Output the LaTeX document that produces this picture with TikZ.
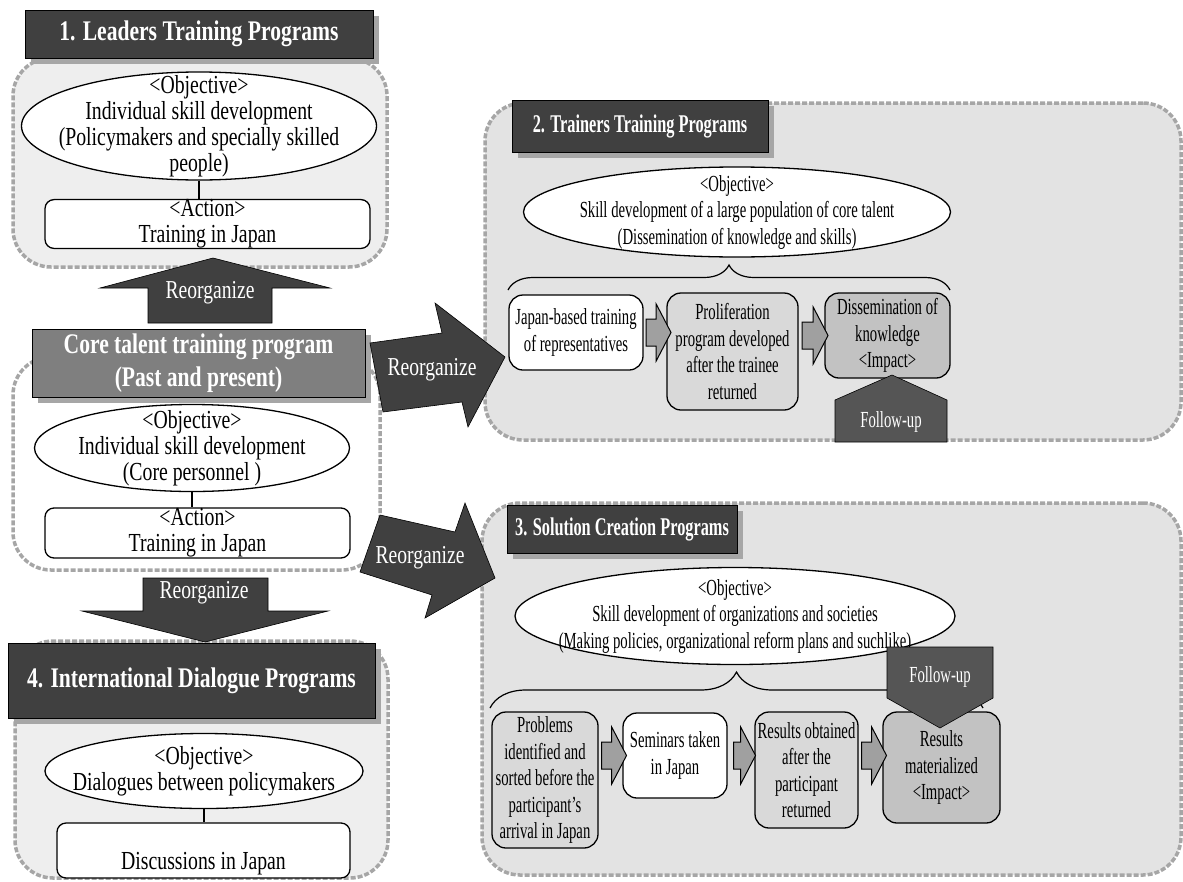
\documentclass[tikz,border=0pt]{standalone}
\usepackage{fontspec}
\setmainfont{Liberation Serif}
\newfontfamily\lfont{Liberation Serif}[FakeStretch=0.76]
\newfontfamily\rfont{Liberation Serif}[FakeStretch=0.64]
\usetikzlibrary{shapes.geometric,shapes.arrows,shadows,calc,decorations.pathreplacing}
\definecolor{darkbox}{HTML}{404040}
\definecolor{corebox}{HTML}{7F7F7F}
\definecolor{shadegray}{HTML}{A6A6A6}
\definecolor{dashgray}{HTML}{A6A6A6}
\definecolor{paleA}{HTML}{EEEEEE}
\definecolor{paleB}{HTML}{E3E3E3}
\definecolor{boxlight}{HTML}{D9D9D9}
\definecolor{boxdark}{HTML}{C2C2C2}
\definecolor{arrowgray}{HTML}{A0A0A0}
\definecolor{followgray}{HTML}{555555}
\tikzset{
  region/.style={draw=dashgray, line width=3.5pt, dash pattern=on 5pt off 2pt, rounded corners=38pt, fill=#1},
  titlebox/.style={draw=black, fill=darkbox, text=white, inner sep=2pt, drop shadow={shadow xshift=6pt, shadow yshift=-6pt, fill=shadegray, opacity=1}},
  objell/.style={ellipse, draw, fill=white, line width=1.3pt, inner sep=0pt},
  actbox/.style={draw, fill=white, line width=1.3pt, rounded corners=9pt, inner sep=0pt, align=center, font=\lfont\fontsize{26}{26}\selectfont},
  stepbox/.style={draw, line width=1.3pt, rounded corners=14pt, inner sep=2pt, align=center, font=\rfont\fontsize{23}{26.5}\selectfont},
  ltext/.style={align=center, font=\lfont\fontsize{26}{26}\selectfont},
  rtext/.style={align=center, font=\rfont\fontsize{23}{26.5}\selectfont},
  ltitle/.style={font=\lfont\bfseries\fontsize{28.4}{33}\selectfont, align=center},
  rtitle/.style={font=\rfont\bfseries\fontsize{25.5}{28}\selectfont},
  blockarrow/.style={single arrow, draw=black, fill=arrowgray, line width=1pt, inner xsep=0pt, inner ysep=13pt, minimum height=#1, single arrow head extend=15pt, single arrow tip angle=125},
  bigarrow/.style={fill=darkbox, draw=black, line width=0.6pt},
  reorg/.style={text=white, font=\lfont\fontsize{25.8}{26}\selectfont},
  fupshape/.style={fill=followgray, draw=black, line width=0.6pt},
  fup/.style={text=white, font=\rfont\fontsize{23}{26}\selectfont},
  curly/.style={decorate, line width=1.2pt, decoration={brace, amplitude=#1}}
}
\begin{document}
\begin{tikzpicture}[x=1pt,y=-1pt]
\useasboundingbox (0,0) rectangle (1183,881);
\node[region=paleA, minimum width=374pt, minimum height=209pt] (reg1) at (200,162.5) {};
\node[region=white, minimum width=367pt, minimum height=213pt] (reg0) at (196.5,463.5) {};
\node[region=paleA, minimum width=373pt, minimum height=237pt] (reg4) at (201.5,759.5) {};
\node[region=paleB, minimum width=696pt, minimum height=337pt] (reg2) at (833,271.5) {};
\node[region=paleB, minimum width=699pt, minimum height=372pt] (reg3) at (831.5,689) {};

\node[titlebox, ltitle, minimum width=348pt, minimum height=48pt] (t1) at (199,34) {1. Leaders Training Programs};
\node[titlebox, ltitle, fill=corebox, minimum width=333pt, minimum height=68pt] (t0) at (198.5,363) {Core talent training program\\(Past and present)};
\node[titlebox, ltitle, minimum width=367pt, minimum height=75pt] (t4) at (191.5,680.5) {4. International Dialogue Programs};
\node[titlebox, rtitle, minimum width=256pt, minimum height=52pt] (t2) at (640,126) {2. Trainers Training Programs};
\node[titlebox, rtitle, minimum width=230pt, minimum height=48pt] (t3) at (622,529) {3. Solution Creation Programs};

\node[objell, minimum width=355pt, minimum height=108pt, label={[ltext]center:{<Objective>\\Individual skill development\\(Policymakers and specially skilled\\people)}}] (obj1) at (199,126) {};
\node[objell, minimum width=315pt, minimum height=87pt, label={[ltext]center:{<Objective>\\Individual skill development\\(Core personnel )}}] (obj0) at (192,448) {};
\node[objell, minimum width=318pt, minimum height=75pt, label={[ltext]center:{<Objective>\\Dialogues between policymakers}}] (obj4) at (204,771) {};
\node[objell, minimum width=427pt, minimum height=90pt, label={[rtext]center:{<Objective>\\Skill development of a large population of core talent\\(Dissemination of knowledge and skills)}}] (obj2) at (737,212) {};
\node[objell, minimum width=440pt, minimum height=97pt, label={[rtext]center:{<Objective>\\Skill development of organizations and societies\\(Making policies, organizational reform plans and suchlike)}}] (obj3) at (735,616) {};

\node[actbox, minimum width=325pt, minimum height=48pt] (act1) at (207.5,224) {<Action>\\Training in Japan};
\node[actbox, minimum width=305pt, minimum height=50pt] (act0) at (197.5,533) {<Action>\\Training in Japan};
\node[actbox, minimum width=293pt, minimum height=55pt] (act4) at (203.5,850.5) {\strut\\Discussions in Japan};
\draw[line width=1.3pt] (obj1.south) -- (obj1.south |- act1.north);
\draw[line width=1.3pt] (obj0.south) -- (obj0.south |- act0.north);
\draw[line width=1.3pt] (obj4.south) -- (obj4.south |- act4.north);

\node[stepbox, fill=white, minimum width=134pt, minimum height=75pt] (b1) at (576,332.5) {Japan-based training\\of representatives};
\node[stepbox, fill=boxlight, minimum width=131pt, minimum height=117pt] (b2) at (732.5,351.5) {Proliferation\\program developed\\after the trainee\\returned};
\node[stepbox, fill=boxdark, minimum width=125pt, minimum height=85pt] (b3) at (887.5,335.5) {Dissemination of\\knowledge\\<Impact>};
\node[blockarrow=25pt] (ab12) at ($(b1.east)!0.5!(b1.east -| b2.west)$) {};
\node[blockarrow=26pt] (ab23) at ($(b3.west -| b2.east)!0.5!(b3.west)$) {};

\node[stepbox, fill=boxlight, minimum width=106pt, minimum height=136pt] (c1) at (545,780) {Problems\\identified and\\sorted before the\\participant’s\\arrival in Japan};
\node[stepbox, fill=white, minimum width=104pt, minimum height=85pt] (c2) at (675,755.5) {Seminars taken\\in Japan};
\node[stepbox, fill=boxlight, minimum width=103pt, minimum height=116pt] (c3) at (806.5,770) {Results obtained\\after the\\participant\\returned};
\node[stepbox, fill=boxdark, minimum width=117pt, minimum height=111pt] (c4) at (941.5,767.5) {Results\\materialized\\<Impact>};
\node[blockarrow=25pt] (ac12) at ($(c1.east |- c2.west)!0.5!(c2.west)$) {};
\node[blockarrow=22pt] (ac23) at ($(c2.east)!0.5!(c2.east -| c3.west)$) {};
\node[blockarrow=25pt] (ac34) at ($(c3.east |- c2.west)!0.5!(c4.west |- c2.west)$) {};

\coordinate (br2a) at (508,290);
\coordinate (br2b) at (950,290);
\coordinate (br3a) at (490,708);
\coordinate (br3b) at (983,708);
\draw[curly=25pt] (br2a) -- (br2b);
\draw[curly=36pt] (br3a) -- (br3b);

\draw[bigarrow] (148,323) -- (272,323) -- (272,288) -- (330,288) -- (213,258) -- (100,288) -- (148,288) -- cycle;
\node[reorg] (rup) at (210,293) {Reorganize};
\draw[bigarrow] (143,578) -- (268,578) -- (268,611) -- (328,611) -- (205,642) -- (82,611) -- (143,611) -- cycle;
\node[reorg] (rdown) at (204,593) {Reorganize};
\draw[bigarrow] (370,343) -- (442,333) -- (435,303) -- (505,357) -- (468,427) -- (462,402) -- (383,412) -- cycle;
\node[reorg] (rright) at (432,370) {Reorganize};
\draw[bigarrow] (380,515) -- (455,532) -- (465,503) -- (495,578) -- (425,618) -- (432,595) -- (360,572) -- cycle;
\node[reorg] (rlow) at (420,558) {Reorganize};

\draw[fupshape] (835,442) -- (835,400) -- (892,375) -- (947,400) -- (947,442) -- cycle;
\node[fup] (fu2) at (891,422) {Follow-up};
\draw[fupshape] (887,647) -- (993,647) -- (993,698) -- (940,728) -- (887,698) -- cycle;
\node[fup] (fu3) at (940,677) {Follow-up};
\end{tikzpicture}
\end{document}
